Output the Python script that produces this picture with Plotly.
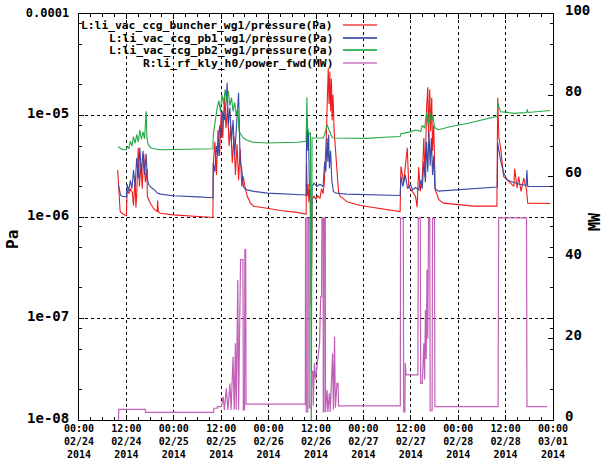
import plotly.graph_objects as go
import pandas as pd

BASE = pd.Timestamp("2014-02-24 00:00")

# ---- data: (hours since 2014-02-24 00:00, value) ----
red_pts = [
    (9.8, 2.9e-6), (10.1, 1.5e-6), (10.4, 1.15e-6), (10.7, 1.1e-6), (11.5, 1.05e-6), (12.0, 1.02e-6),
    (12.2, 1.85e-6), (12.6, 1.7e-6), (13.0, 1.9e-6), (13.5, 1.75e-6), (13.8, 1.3e-6), (14.2, 2.5e-6),
    (14.4, 1.24e-6), (14.6, 1.6e-6), (15.0, 4.8e-6), (15.3, 2.0e-6), (15.7, 3.4e-6), (16.0, 1.9e-6),
    (16.4, 4.2e-6), (16.8, 2.2e-6), (17.2, 3.0e-6), (17.3, 1.6e-6), (18.1, 1.35e-6), (19.0, 1.2e-6),
    (19.8, 1.13e-6), (19.9, 1.45e-6), (20.1, 1.12e-6), (20.6, 1.09e-6), (23.9, 1.05e-6), (30.0, 1.01e-6),
    (33.9, 9.9e-7),
    (34.0, 3.3e-6), (34.4, 5.5e-6), (34.8, 2.6e-6), (35.2, 7.2e-6), (35.6, 4.0e-6), (36.0, 1.1e-5),
    (36.4, 6.0e-6), (36.8, 1.5e-5), (37.2, 7.5e-6), (37.6, 1.2e-5), (38.0, 5.0e-6), (38.4, 8.0e-6),
    (38.8, 3.4e-6), (39.2, 6.2e-6), (39.6, 2.6e-6), (40.0, 5.2e-6), (40.4, 2.3e-6), (40.8, 4.7e-6),
    (41.2, 2.0e-6), (41.6, 2.5e-6), (42.0, 2.0e-6), (42.6, 1.6e-6), (43.4, 1.37e-6), (44.2, 1.28e-6),
    (47.6, 1.22e-6), (51.0, 1.16e-6), (55.2, 1.11e-6), (57.5, 1.07e-6),
    (57.6, 3.5e-6), (57.8, 1.6e-6), (58.0, 2.1e-6), (58.2, 1.4e-6), (58.4, 1.9e-6), (58.6, 1.45e-6),
    (58.8, 1.3e-7), (59.0, 1.5e-6), (59.5, 1.6e-6), (60.0, 1.5e-6), (60.5, 1.62e-6), (61.0, 1.52e-6),
    (61.4, 1.9e-6), (61.8, 1.7e-6), (62.1, 2.2e-6), (62.3, 3.0e-6), (62.6, 6.0e-6), (62.9, 1.6e-5),
    (63.1, 2.9e-5), (63.3, 1.3e-5), (63.5, 2.7e-5), (63.7, 1.1e-5), (63.9, 2.3e-5), (64.1, 9.0e-6),
    (64.3, 1.6e-5), (64.6, 7.0e-6), (64.9, 4.8e-6), (65.3, 2.6e-6), (65.7, 1.77e-6), (66.1, 1.6e-6),
    (67.9, 1.41e-6), (71.2, 1.3e-6), (74.6, 1.24e-6), (78.8, 1.18e-6), (81.3, 1.13e-6),
    (81.5, 3.15e-6), (82.2, 2.2e-6), (83.1, 4.8e-6), (83.5, 2.0e-6), (84.3, 1.8e-6), (85.2, 1.6e-6),
    (85.6, 1.25e-6), (86.0, 3.1e-6), (86.4, 1.8e-6), (86.9, 2.4e-6), (87.3, 6.0e-6), (87.6, 2.5e-6),
    (88.0, 1.2e-5), (88.3, 1.9e-5), (88.5, 6.0e-6), (88.8, 1.8e-5), (89.0, 7.0e-6), (89.3, 1.5e-5),
    (89.5, 4.5e-6), (89.8, 8.0e-6), (90.2, 1.85e-6), (91.1, 1.48e-6), (92.3, 1.37e-6), (95.7, 1.32e-6),
    (99.9, 1.28e-6), (105.8, 1.28e-6),
    (106.0, 1.5e-5), (106.3, 6.0e-6), (106.7, 4.95e-6), (107.5, 2.5e-6), (108.4, 2.33e-6), (109.2, 2.17e-6),
    (110.1, 2.0e-6), (110.3, 3.0e-6), (110.9, 1.93e-6), (111.3, 2.5e-6), (111.9, 1.79e-6), (112.6, 2.41e-6),
    (113.3, 1.85e-6), (113.6, 1.37e-6), (119.3, 1.36e-6),
]

blue_pts = [
    (9.97, 2.1e-6), (10.5, 1.65e-6), (10.9, 1.6e-6), (12.0, 1.58e-6), (12.2, 2.1e-6), (12.6, 1.8e-6),
    (13.0, 2.3e-6), (13.4, 1.9e-6), (13.8, 2.9e-6), (14.2, 2.0e-6), (14.6, 3.8e-6), (15.0, 2.4e-6),
    (15.4, 4.8e-6), (15.8, 2.7e-6), (16.2, 4.5e-6), (16.6, 2.6e-6), (17.0, 4.2e-6), (17.3, 2.4e-6),
    (17.6, 2.1e-6), (18.3, 1.95e-6), (19.1, 1.85e-6), (19.85, 1.72e-6), (20.6, 1.68e-6), (23.9, 1.62e-6),
    (30.0, 1.58e-6), (33.9, 1.55e-6),
    (34.0, 3.4e-6), (34.4, 2.8e-6), (34.8, 5.0e-6), (35.2, 4.0e-6), (35.6, 8.0e-6), (36.0, 6.0e-6),
    (36.4, 1.1e-5), (36.8, 9.0e-6), (37.2, 1.3e-5), (37.5, 2.1e-5), (37.8, 8.0e-6), (38.2, 1.2e-5),
    (38.6, 5.5e-6), (39.0, 9.0e-6), (39.4, 4.0e-6), (39.8, 7.0e-6), (40.4, 1.67e-5), (40.8, 3.5e-6),
    (41.2, 3.0e-6), (41.6, 2.0e-6), (42.0, 1.9e-6), (42.6, 1.85e-6), (44.2, 1.79e-6), (47.7, 1.72e-6),
    (51.0, 1.69e-6), (55.3, 1.66e-6), (57.5, 1.65e-6),
    (57.6, 6.0e-6), (57.75, 9.5e-6), (57.9, 4.5e-6), (58.1, 7.0e-6), (58.3, 2.2e-6), (58.5, 1.9e-6),
    (58.8, 1.43e-7), (59.0, 2.0e-6), (59.5, 2.15e-6), (60.2, 2.0e-6), (61.0, 2.1e-6), (61.8, 2.0e-6),
    (62.2, 3.5e-6), (62.5, 2.8e-6), (62.8, 6.0e-6), (63.0, 3.5e-6), (63.2, 6.5e-6), (63.4, 3.0e-6),
    (63.7, 4.5e-6), (64.0, 2.3e-6), (64.4, 1.79e-6), (65.0, 1.72e-6), (67.7, 1.68e-6), (73.0, 1.66e-6),
    (81.3, 1.63e-6),
    (81.5, 2.5e-6), (82.0, 2.0e-6), (82.6, 2.6e-6), (83.2, 1.9e-6), (83.9, 2.1e-6), (84.5, 1.85e-6),
    (85.2, 1.95e-6), (86.0, 1.85e-6), (86.5, 2.3e-6), (86.9, 1.9e-6), (87.3, 3.5e-6), (87.7, 2.2e-6),
    (88.0, 5.5e-6), (88.3, 2.8e-6), (88.6, 7.0e-6), (88.9, 3.2e-6), (89.2, 6.0e-6), (89.5, 2.6e-6),
    (89.8, 4.0e-6), (90.1, 1.9e-6), (91.0, 1.8e-6), (95.8, 1.85e-6), (99.8, 1.9e-6), (103.0, 1.95e-6),
    (105.9, 1.97e-6),
    (106.0, 5.4e-6), (106.7, 3.66e-6), (107.5, 2.73e-6), (108.4, 2.33e-6), (109.2, 2.25e-6), (110.1, 2.2e-6),
    (111.5, 2.1e-6), (113.2, 2.05e-6), (113.4, 2.9e-6), (113.6, 2.0e-6), (119.3, 2.0e-6),
]

green_pts = [
    (9.97, 4.95e-6), (10.9, 4.6e-6), (12.0, 4.6e-6), (12.2, 5.0e-6), (12.6, 4.7e-6), (13.0, 5.6e-6),
    (13.4, 5.0e-6), (13.8, 6.2e-6), (14.2, 5.3e-6), (14.6, 6.5e-6), (15.0, 5.5e-6), (15.4, 7.2e-6),
    (15.8, 5.8e-6), (16.2, 6.9e-6), (16.6, 5.9e-6), (17.0, 1.1e-5), (17.2, 6.0e-6), (17.5, 5.2e-6),
    (18.1, 4.82e-6), (19.0, 4.7e-6), (20.6, 4.6e-6), (30.0, 4.62e-6), (33.9, 4.7e-6),
    (34.0, 6.5e-6), (34.3, 8.0e-6), (34.6, 1.0e-5), (35.0, 1.2e-5), (35.4, 1.4e-5), (35.8, 1.1e-5),
    (36.2, 1.6e-5), (36.6, 1.3e-5), (37.0, 1.8e-5), (37.4, 1.35e-5), (37.8, 1.75e-5), (38.2, 1.25e-5),
    (38.6, 1.5e-5), (39.0, 1.1e-5), (39.4, 1.35e-5), (39.8, 1.0e-5), (40.2, 1.2e-5), (40.5, 7.0e-6),
    (41.0, 6.5e-6), (41.6, 6.0e-6), (42.6, 5.7e-6), (44.0, 5.45e-6), (47.7, 5.36e-6), (51.0, 5.36e-6),
    (55.3, 5.45e-6), (57.5, 5.56e-6),
    (57.7, 1.5e-5), (57.8, 8.0e-6), (58.2, 6.5e-6), (58.6, 6.8e-6), (58.8, 5e-9), (59.0, 6.0e-6),
    (61.8, 6.0e-6), (62.2, 6.5e-6), (62.8, 8.1e-6), (63.3, 7.2e-6), (64.0, 6.2e-6), (64.4, 6.0e-6),
    (69.5, 5.95e-6), (73.0, 5.95e-6), (77.1, 6.1e-6), (81.3, 6.22e-6),
    (81.5, 6.6e-6), (83.9, 6.9e-6), (85.2, 7.2e-6), (86.5, 7.0e-6), (86.9, 8.0e-6), (87.5, 7.5e-6),
    (88.0, 1.07e-5), (88.4, 8.0e-6), (88.8, 1.1e-5), (89.2, 8.5e-6), (89.6, 1.0e-5), (90.0, 7.6e-6),
    (91.0, 7.24e-6), (94.2, 7.8e-6), (98.5, 8.4e-6), (102.5, 9.1e-6), (105.9, 9.8e-6),
    (106.0, 1.33e-5), (106.3, 1.2e-5), (106.7, 1.09e-5), (108.0, 1.08e-5), (110.0, 1.05e-5),
    (113.3, 1.07e-5), (113.5, 1.15e-5), (113.7, 1.07e-5), (116.0, 1.09e-5), (119.3, 1.12e-5),
]

power_pts = [
    (10.0, 0.0), (10.05, 2.6), (16.8, 2.6), (16.85, 1.9), (34.1, 1.9), (34.15, 2.9), (35.0, 2.9),
    (35.05, 3.3), (36.0, 3.3), (36.5, 5.7), (36.8, 2.5), (37.3, 7.8), (37.7, 2.5), (38.2, 9.0),
    (38.5, 2.5), (39.0, 15.6), (39.3, 2.5), (39.6, 18.9), (39.8, 2.5), (40.2, 34.5), (40.4, 2.5),
    (40.9, 39.5), (41.5, 39.5), (41.6, 2.5), (41.9, 2.5), (42.0, 42.0), (42.2, 42.0), (42.3, 3.9),
    (57.2, 3.9),
    (57.3, 3.7), (57.35, 49.7), (57.5, 49.7), (57.55, 2.0), (57.9, 2.0), (57.95, 49.7), (58.25, 49.7),
    (58.3, 3.0), (58.8, 3.0), (58.9, 12.0), (59.2, 12.0), (59.3, 3.5), (59.6, 14.0), (59.9, 10.0),
    (60.1, 12.0), (60.5, 15.0), (60.9, 18.9), (61.2, 30.4), (61.4, 30.4), (61.5, 49.7), (61.8, 49.7),
    (61.85, 2.0), (62.0, 2.0), (62.05, 49.7), (62.35, 49.7), (62.4, 2.0), (62.8, 7.4), (63.0, 2.0),
    (63.4, 6.6), (63.6, 2.0), (64.2, 16.4), (64.4, 2.5), (64.7, 20.5), (64.9, 3.0), (65.3, 9.0),
    (65.6, 9.0), (65.7, 3.5), (81.3, 3.5),
    (81.35, 3.5), (81.4, 49.7), (82.1, 49.7), (82.2, 2.0), (82.5, 2.0), (82.6, 14.0), (82.8, 11.1),
    (85.8, 11.1), (85.9, 49.7), (86.4, 49.7), (86.5, 9.0), (86.9, 9.0), (87.3, 18.9), (87.5, 10.0),
    (87.7, 27.1), (87.9, 15.0), (88.1, 37.0), (88.3, 20.0), (88.4, 44.4), (88.5, 49.7), (88.8, 49.7),
    (88.9, 2.3), (89.4, 2.3), (89.5, 49.7), (90.0, 49.7), (90.1, 3.3), (106.1, 3.3), (106.15, 18.5),
    (106.25, 49.8), (113.3, 49.8), (113.4, 3.3), (118.5, 3.3),
]

SERIES_NAMES = [
    "L:li_vac_ccg_buncher_wg1/pressure(Pa)",
    "L:li_vac_ccg_pb1_wg1/pressure(Pa)",
    "L:li_vac_ccg_pb2_wg1/pressure(Pa)",
    "R:li_rf_kly_h0/power_fwd(MW)",
]
COLORS = ["#f01c1c", "#3b48a6", "#22a844", "#c060b6"]
LEGEND_COLORS = ["#f27070", "#5a66b4", "#40b860", "#d49ace"]

LEFT_TICKS = [1e-8, 1e-7, 1e-6, 1e-5, 1e-4]
LEFT_TICKTEXT = ["1e-08", "1e-07", "1e-06", "1e-05", '<span style="font-size:12px">0.0001</span>']
RIGHT_TICKS = [0, 20, 40, 60, 80, 100]
MINOR_LOG = [k * 10.0 ** e for e in range(-8, -4) for k in (2, 5, 8)]

FONT = "DejaVu Sans Mono"

W, H = 603, 462
L, R, T, B = 79, 50, 14, 42
PW, PH = W - L - R, H - T - B


def px(x):
    return (x - L) / PW


def py(y):
    return (H - B - y) / PH


def xs(pts):
    return [BASE + pd.Timedelta(hours=h) for h, _ in pts]


def ys(pts):
    return [v for _, v in pts]


fig = go.Figure()
for pts, name, col in zip([red_pts, blue_pts, green_pts], SERIES_NAMES[:3], COLORS[:3]):
    fig.add_trace(go.Scatter(x=xs(pts), y=ys(pts), mode="lines", name=name,
                             line=dict(color=col, width=1.1), yaxis="y"))
fig.add_trace(go.Scatter(x=xs(power_pts), y=ys(power_pts), mode="lines", name=SERIES_NAMES[3],
                         line=dict(color=COLORS[3], width=1.2), yaxis="y2"))

tickvals = [BASE + pd.Timedelta(hours=12 * i) for i in range(11)]
ticktext = [t.strftime("%H:%M<br>%m/%d<br>%Y") for t in tickvals]

grid = dict(showgrid=True, gridcolor="black", griddash="dot", gridwidth=1)

fig.update_layout(
    width=W, height=H,
    margin=dict(l=L, r=R, t=T, b=B, autoexpand=False),
    paper_bgcolor="white", plot_bgcolor="white",
    showlegend=False,
    font=dict(family=FONT, color="black", weight="bold"),
    xaxis=dict(
        type="date", range=[tickvals[0], tickvals[-1]],
        tickmode="array", tickvals=tickvals, ticktext=ticktext,
        tickfont=dict(size=10, family=FONT, weight="bold"),
        ticks="inside", ticklen=5, tickcolor="black",
        showline=True, linecolor="black", linewidth=1, mirror="ticks",
        zeroline=False, ticklabelstandoff=-1,
        minor=dict(tickmode="linear", tick0=tickvals[0], dtick=3 * 3600 * 1000,
                   ticks="inside", ticklen=3, tickcolor="black", showgrid=False),
        **grid,
    ),
    yaxis=dict(
        type="log", range=[-8, -4],
        tickmode="array", tickvals=LEFT_TICKS, ticktext=LEFT_TICKTEXT,
        tickfont=dict(size=14, family=FONT, weight="bold"),
        ticks="inside", ticklen=5, tickcolor="black",
        showline=True, linecolor="black", linewidth=1, mirror="ticks",
        zeroline=False, ticklabelstandoff=6, ticklabelshift=-2,
        minor=dict(tickmode="array", tickvals=MINOR_LOG, ticks="inside", ticklen=3,
                   tickcolor="black", showgrid=False),
        **grid,
    ),
    yaxis2=dict(
        overlaying="y", side="right", range=[0, 100],
        tickmode="array", tickvals=RIGHT_TICKS,
        tickfont=dict(size=14, family=FONT, weight="bold"),
        ticks="inside", ticklen=5, tickcolor="black",
        showline=False, showgrid=False, zeroline=False,
        ticklabelstandoff=11, ticklabelshift=-4,
    ),
)

# axis titles
fig.add_annotation(x=px(12), y=py(240), xref="paper", yref="paper", text="Pa", showarrow=False,
                   xanchor="center", yanchor="middle",
                   textangle=-90, font=dict(size=16, family=FONT, weight="bold"))
fig.add_annotation(x=px(595), y=py(222), xref="paper", yref="paper", text="MW", showarrow=False,
                   xanchor="center", yanchor="middle",
                   textangle=-90, font=dict(size=15, family=FONT, weight="bold"))

# key (text right-aligned, sample line to the right)
rows = [25, 38, 50, 63]
for name, col, ry in zip(SERIES_NAMES, LEGEND_COLORS, rows):
    fig.add_annotation(x=px(335), y=py(ry), xref="paper", yref="paper", text=name, showarrow=False,
                       xanchor="right", yanchor="middle",
                       font=dict(size=11.3, family=FONT, weight="bold"))
    fig.add_shape(type="line", xref="paper", yref="paper", x0=px(343), x1=px(377),
                  y0=py(ry), y1=py(ry), line=dict(color=col, width=2))

fig.write_html("out.html")
